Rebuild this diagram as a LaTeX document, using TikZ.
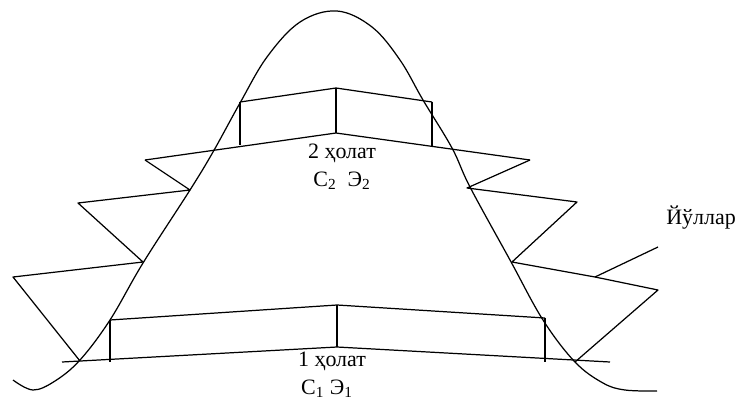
\documentclass[tikz,border=0pt]{standalone}
\usepackage{fontspec}
\setmainfont{Liberation Serif}
\usetikzlibrary{positioning}

\tikzset{
  edge/.style={line width=0.7pt, line join=round},
  lbl/.style={font=\fontsize{12.5}{14}\selectfont, inner sep=1pt}
}

\begin{document}
\begin{tikzpicture}[x=0.02cm, y=-0.02cm]
      \useasboundingbox (0,0) rectangle (741,403);

      % Bell curve
      \draw[edge] plot[smooth, tension=0.6] coordinates {(13,380) (33,390) (55,381) (80,360) (110,320)
        (143,263) (190,190) (213,152) (240,103) (267,57) (300,22) (337,11) (372,27) (400,60)
        (423,100) (452,148) (470,187) (510,260) (543,320) (575,362) (603,383) (625,390) (657,391)};

      % State 1 (lower block)
      \coordinate (bl) at (62,362);
      \coordinate (bm) at (337,347);
      \coordinate (br) at (610,362);
      \coordinate (tl) at (110,320);
      \coordinate (tm) at (337,305);
      \coordinate (tr) at (545,318);
      \draw[edge] (bl) -- (bm) -- (br);
      \draw[edge] (tl) -- (tm) -- (tr);
      \draw[edge] (tl) -- (tl |- bl);
      \draw[edge] (tm) -- (bm);
      \draw[edge] (tr) -- (tr |- br);

      % State 2 (upper block)
      \coordinate (ul) at (240,102);
      \coordinate (um) at (336,88);
      \coordinate (ur) at (432,102);
      \coordinate (ll) at (145,160);
      \coordinate (lm) at (336,133);
      \coordinate (lr) at (530,160);
      \draw[edge] (ul) -- (um) -- (ur);
      \draw[edge] (ll) -- (lm) -- (lr);
      \draw[edge] (ul) -- (240,145);
      \draw[edge] (um) -- (lm);
      \draw[edge] (ur) -- (432,147);

      % Paths (zigzags)
      \draw[edge] (ll) -- (190,190) -- (78,203) -- (143,262) -- (13,277) -- (80,361);
      \coordinate (rp) at (595,277);
      \draw[edge] (lr) -- (467,188) -- (577,202) -- (512,262) -- (rp) -- (658,290) -- (575,362);

      % Labels
      \node[lbl] (st2) at (342,153) {2 ҳолат};
      \node[lbl, below=3pt of st2] (ce2) {С\textsubscript{2}\enspace Э\textsubscript{2}};
      \node[lbl] (st1) at (332,361) {1 ҳолат};
      \node[lbl, below=3pt of st1, xshift=-0.1cm] (ce1) {С\textsubscript{1} Э\textsubscript{1}};
      \node[lbl] (paths) at (701,218) {Йўллар};

      % Leader
      \draw[edge] (rp) -- (658,247);
\end{tikzpicture}
\end{document}
